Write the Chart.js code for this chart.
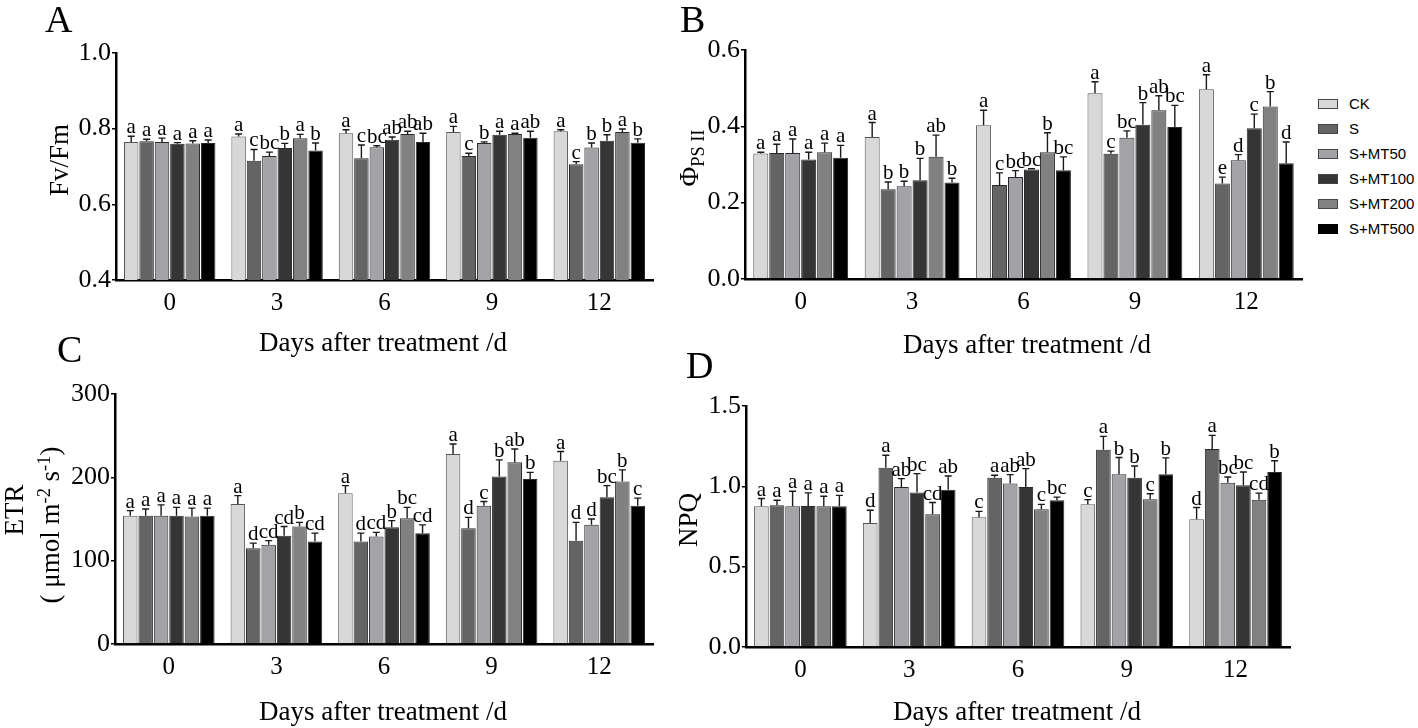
<!DOCTYPE html>
<html>
<head>
<meta charset="utf-8">
<script src="https://cdn.jsdelivr.net/npm/chart.js@4.4.1/dist/chart.umd.min.js"></script>
<style>
  html, body { margin:0; padding:0; background:#fff; }
  body { width:1418px; height:728px; position:relative; overflow:hidden; font-family:"Liberation Serif","Times New Roman",serif; color:#000; }
  canvas { position:absolute; }
  .t { position:absolute; white-space:nowrap; font-size:27px; line-height:1; }
  .panel { position:absolute; font-size:38px; line-height:1; }
  .leg { position:absolute; font-family:"Liberation Sans",Arial,sans-serif; font-size:15px; line-height:1; }
  .sw { position:absolute; width:18px; height:8px; border:1px solid #444; }
  .sup { font-size:0.68em; position:relative; top:-0.5em; }
  .sub { font-size:0.68em; position:relative; top:0.3em; }
</style>
</head>
<body>
<canvas id="cA"></canvas>
<canvas id="cB"></canvas>
<canvas id="cC"></canvas>
<canvas id="cD"></canvas>

<div class="panel" style="left:45px;top:0px;">A</div>
<div class="panel" style="left:680px;top:0px;">B</div>
<div class="panel" style="left:57px;top:330px;">C</div>
<div class="panel" style="left:686px;top:346px;">D</div>

<div class="t" style="left:59px;top:160px;transform:translate(-50%,-50%) rotate(-90deg);">Fv/Fm</div>
<div class="t" style="left:689px;top:158px;transform:translate(-50%,-50%) rotate(-90deg);">Φ<span class="sub">PS II</span></div>
<div class="t" style="left:14px;top:510px;transform:translate(-50%,-50%) rotate(-90deg);">ETR</div>
<div class="t" style="left:50px;top:525px;transform:translate(-50%,-50%) rotate(-90deg);">( μmol m<span class="sup">-2</span> s<span class="sup">-1</span>)</div>
<div class="t" style="left:688px;top:520px;transform:translate(-50%,-50%) rotate(-90deg);">NPQ</div>

<div class="t" style="left:383px;top:342px;transform:translate(-50%,-50%);">Days after treatment /d</div>
<div class="t" style="left:1027px;top:344px;transform:translate(-50%,-50%);">Days after treatment /d</div>
<div class="t" style="left:383px;top:711px;transform:translate(-50%,-50%);">Days after treatment /d</div>
<div class="t" style="left:1017px;top:711px;transform:translate(-50%,-50%);">Days after treatment /d</div>

<div id="legend"></div>

<script>
// ---------- data ----------
const days = ['0', '3', '6', '9', '12'];
const treatments = ['CK', 'S', 'S+MT50', 'S+MT100', 'S+MT200', 'S+MT500'];
const fills = ['#d8d8d8', '#646464', '#a2a2a7', '#353535', '#818181', '#000000'];

// Panel A: Fv/Fm  (rows = treatments, columns = days)
const fvfmMean = [
  [0.765, 0.779, 0.788, 0.791, 0.793],
  [0.767, 0.715, 0.722, 0.728, 0.706],
  [0.765, 0.728, 0.751, 0.762, 0.750],
  [0.760, 0.749, 0.771, 0.784, 0.768],
  [0.761, 0.775, 0.786, 0.786, 0.791],
  [0.762, 0.742, 0.765, 0.776, 0.763]
];
const fvfmErr = [
  [0.015, 0.007, 0.009, 0.015, 0.004],
  [0.005, 0.030, 0.035, 0.007, 0.007],
  [0.010, 0.010, 0.004, 0.003, 0.012],
  [0.003, 0.012, 0.007, 0.009, 0.016],
  [0.007, 0.010, 0.007, 0.002, 0.008],
  [0.008, 0.020, 0.023, 0.017, 0.010]
];
const fvfmSig = [
  ['a', 'a', 'a', 'a', 'a'],
  ['a', 'c', 'c', 'c', 'c'],
  ['a', 'bc', 'bc', 'b', 'b'],
  ['a', 'b', 'ab', 'a', 'b'],
  ['a', 'a', 'ab', 'a', 'a'],
  ['a', 'b', 'ab', 'ab', 'b']
];
const fvfmTicks = [0.4, 0.6, 0.8, 1.0];

// Panel B: ΦPSII
const phiMean = [
  [0.329, 0.372, 0.403, 0.487, 0.497],
  [0.330, 0.235, 0.246, 0.328, 0.250],
  [0.330, 0.243, 0.267, 0.370, 0.311],
  [0.313, 0.259, 0.287, 0.404, 0.395],
  [0.332, 0.320, 0.332, 0.442, 0.452],
  [0.318, 0.253, 0.285, 0.398, 0.303]
];
const phiErr = [
  [0.003, 0.038, 0.039, 0.030, 0.038],
  [0.023, 0.019, 0.032, 0.007, 0.017],
  [0.037, 0.013, 0.017, 0.018, 0.015],
  [0.019, 0.057, 0.002, 0.058, 0.037],
  [0.024, 0.057, 0.051, 0.038, 0.039],
  [0.032, 0.011, 0.035, 0.057, 0.056]
];
const phiSig = [
  ['a', 'a', 'a', 'a', 'a'],
  ['a', 'b', 'c', 'c', 'e'],
  ['a', 'b', 'bc', 'bc', 'd'],
  ['a', 'b', 'bc', 'b', 'c'],
  ['a', 'ab', 'b', 'ab', 'b'],
  ['a', 'b', 'bc', 'bc', 'd']
];
const phiTicks = [0.0, 0.2, 0.4, 0.6];

// Panel C: ETR
const etrMean = [
  [154, 168, 181, 228, 220],
  [154, 115, 123, 139, 124],
  [154, 119, 129, 166, 143],
  [154, 130, 140, 201, 176],
  [153, 141, 151, 218, 195],
  [154, 123, 133, 198, 166]
];
const etrErr = [
  [6, 10, 9, 12, 11],
  [8, 6, 10, 13, 22],
  [13, 5, 5, 5, 7],
  [10, 11, 8, 20, 14],
  [10, 5, 13, 16, 14],
  [9, 10, 10, 8, 9]
];
const etrSig = [
  ['a', 'a', 'a', 'a', 'a'],
  ['a', 'd', 'd', 'd', 'd'],
  ['a', 'cd', 'cd', 'c', 'd'],
  ['a', 'cd', 'b', 'b', 'bc'],
  ['a', 'b', 'bc', 'ab', 'b'],
  ['a', 'cd', 'cd', 'b', 'c']
];
const etrTicks = [0, 100, 200, 300];

// Panel D: NPQ
const npqMean = [
  [0.876, 0.772, 0.807, 0.888, 0.795],
  [0.882, 1.116, 1.054, 1.228, 1.232],
  [0.876, 0.996, 1.017, 1.075, 1.023],
  [0.878, 0.961, 0.996, 1.054, 1.006],
  [0.876, 0.826, 0.857, 0.919, 0.917],
  [0.876, 0.979, 0.913, 1.075, 1.089]
];
const npqErr = [
  [0.048, 0.079, 0.037, 0.029, 0.073],
  [0.031, 0.077, 0.015, 0.083, 0.085],
  [0.093, 0.052, 0.056, 0.104, 0.035],
  [0.081, 0.118, 0.114, 0.073, 0.083],
  [0.062, 0.073, 0.031, 0.035, 0.041],
  [0.068, 0.085, 0.020, 0.102, 0.070]
];
const npqSig = [
  ['a', 'd', 'c', 'c', 'd'],
  ['a', 'a', 'a', 'a', 'a'],
  ['a', 'ab', 'ab', 'b', 'bc'],
  ['a', 'bc', 'ab', 'b', 'bc'],
  ['a', 'cd', 'c', 'c', 'cd'],
  ['a', 'ab', 'bc', 'b', 'b']
];
const npqTicks = [0.0, 0.5, 1.0, 1.5];

// ---------- drawing ----------
const SERIF = "'Liberation Serif', 'Times New Roman', serif";
Chart.defaults.font.family = SERIF;
Chart.defaults.color = '#000';

const errPlugin = {
  id: 'errbars',
  afterDatasetsDraw(chart) {
    const ctx = chart.ctx;
    const ys = chart.scales.y;
    ctx.save();
    chart.data.datasets.forEach((ds, i) => {
      const meta = chart.getDatasetMeta(i);
      meta.data.forEach((bar, j) => {
        const v = ds.data[j];
        const e = ds.err[j];
        const yb = ys.getPixelForValue(v);
        const yt = ys.getPixelForValue(v + e);
        ctx.strokeStyle = '#1a1a1a';
        ctx.lineWidth = 1.4;
        ctx.beginPath();
        ctx.moveTo(bar.x, yb);
        ctx.lineTo(bar.x, yt);
        ctx.moveTo(bar.x - 3.5, yt);
        ctx.lineTo(bar.x + 3.5, yt);
        ctx.stroke();
        ctx.fillStyle = '#000';
        ctx.font = '21px ' + SERIF;
        ctx.textAlign = 'center';
        ctx.textBaseline = 'alphabetic';
        ctx.fillText(ds.sig[j], bar.x, yt - 3);
      });
    });
    ctx.restore();
  }
};

function makeChart(id, box, means, errs, sigs, ticks, decimals) {
  const cv = document.getElementById(id);
  cv.style.left = box.x + 'px';
  cv.style.top = box.y + 'px';
  cv.width = box.w; cv.height = box.h;
  cv.style.width = box.w + 'px'; cv.style.height = box.h + 'px';
  const datasets = treatments.map((t, i) => ({
    label: t,
    data: means[i],
    err: errs[i],
    sig: sigs[i],
    backgroundColor: fills[i],
    borderColor: i === 0 ? '#555' : '#2a2a2a',
    borderWidth: 1,
    borderSkipped: 'bottom',
    barPercentage: 0.94,
    categoryPercentage: 0.86
  }));
  return new Chart(cv, {
    type: 'bar',
    data: { labels: days, datasets },
    plugins: [errPlugin],
    options: {
      responsive: false,
      animation: false,
      devicePixelRatio: 1,
      layout: { autoPadding: false, padding: { left: 0, right: box.padR, top: box.padT, bottom: 0 } },
      plugins: { legend: { display: false }, tooltip: { enabled: false } },
      scales: {
        x: {
          grid: { display: false, drawTicks: false },
          border: { display: true, color: '#000', width: 2.5 },
          ticks: { color: '#000', font: { family: SERIF, size: 25 }, padding: 8, maxRotation: 0, autoSkip: false },
          afterFit: (s) => { s.height = box.xh; }
        },
        y: {
          min: ticks[0],
          max: ticks[ticks.length - 1],
          afterBuildTicks: (s) => { s.ticks = ticks.map(v => ({ value: v })); },
          grid: { display: true, drawOnChartArea: false, drawTicks: true, tickLength: 4, color: '#000', lineWidth: 1.5 },
          border: { display: true, color: '#000', width: 2.5 },
          ticks: {
            color: '#000', font: { family: SERIF, size: 26 }, padding: 1,
            callback: (v) => Number(v).toFixed(decimals)
          },
          afterFit: (s) => { s.width = box.yw; }
        }
      }
    }
  });
}

makeChart('cA', { x: 0, y: 0, w: 700, h: 360, yw: 116, padR: 47, padT: 53, xh: 80 }, fvfmMean, fvfmErr, fvfmSig, fvfmTicks, 1);
makeChart('cB', { x: 700, y: 0, w: 612, h: 360, yw: 45, padR: 10, padT: 50, xh: 81 }, phiMean, phiErr, phiSig, phiTicks, 1);
makeChart('cC', { x: 0, y: 365, w: 700, h: 363, yw: 115, padR: 47, padT: 29, xh: 84 }, etrMean, etrErr, etrSig, etrTicks, 0);
makeChart('cD', { x: 700, y: 365, w: 612, h: 363, yw: 46, padR: 22, padT: 41, xh: 81 }, npqMean, npqErr, npqSig, npqTicks, 1);

// legend
const leg = document.getElementById('legend');
const legY = [104, 129, 154, 179, 204, 229];
treatments.forEach((t, i) => {
  const sw = document.createElement('div');
  sw.className = 'sw';
  sw.style.left = '1318px';
  sw.style.top = (legY[i] - 5) + 'px';
  sw.style.background = fills[i];
  if (i === 5) sw.style.borderColor = '#000';
  leg.appendChild(sw);
  const tx = document.createElement('div');
  tx.className = 'leg';
  tx.style.left = '1349px';
  tx.style.top = (legY[i] - 8) + 'px';
  tx.textContent = t;
  leg.appendChild(tx);
});
</script>
</body>
</html>
